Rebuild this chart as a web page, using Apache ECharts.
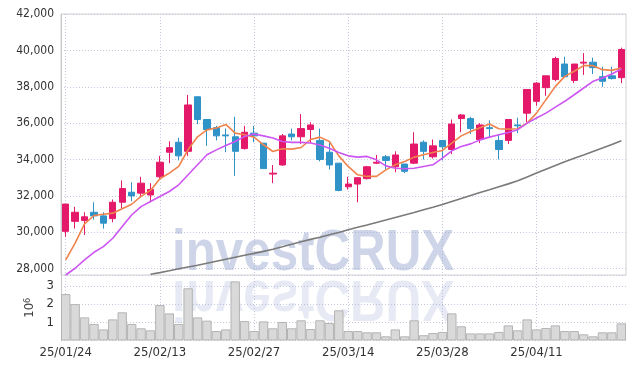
<!DOCTYPE html>
<html>
<head>
<meta charset="utf-8">
<script src="https://cdn.jsdelivr.net/npm/echarts@6/dist/echarts.min.js"></script>
<style>
  html, body { margin: 0; padding: 0; background: #fff; }
  #chart { width: 634px; height: 369px; }
</style>
</head>
<body>
<div id="chart"></div>
<script>
// trading days (yy/mm/dd)
const dates = [
  '25/01/24', '25/01/31', '25/02/03', '25/02/04', '25/02/05', '25/02/06', '25/02/07', '25/02/10', '25/02/11', '25/02/12',
  '25/02/13', '25/02/14', '25/02/17', '25/02/18', '25/02/19', '25/02/20', '25/02/21', '25/02/24', '25/02/25', '25/02/26',
  '25/02/27', '25/02/28', '25/03/04', '25/03/05', '25/03/06', '25/03/07', '25/03/10', '25/03/11', '25/03/12', '25/03/13',
  '25/03/14', '25/03/17', '25/03/18', '25/03/19', '25/03/20', '25/03/21', '25/03/24', '25/03/25', '25/03/26', '25/03/27',
  '25/03/28', '25/03/31', '25/04/01', '25/04/02', '25/04/03', '25/04/04', '25/04/07', '25/04/08', '25/04/09', '25/04/10',
  '25/04/11', '25/04/14', '25/04/15', '25/04/16', '25/04/17', '25/04/18', '25/04/21', '25/04/22', '25/04/23', '25/04/24'
];

const opens = [
  30050, 30600, 30650, 31100, 30900, 30750, 31650, 32200, 32150, 32050,
  33050, 34400, 34950, 34450, 37450, 36200, 35750, 35350, 35250, 34600,
  35450, 34900, 33200, 33700, 35400, 35250, 35650, 35050, 34400, 33800,
  32500, 32650, 32950, 33800, 34150, 33600, 33750, 33800, 34950, 34150,
  35050, 34550, 36250, 36250, 35100, 35750, 35050, 35050, 35900, 36550,
  37200, 37950, 38400, 39250, 38350, 39300, 39350, 38550, 38600, 38500
];
const closes = [
  31550, 31100, 30850, 30900, 30500, 31650, 32400, 32000, 32700, 32350,
  33850, 34650, 34200, 37000, 36200, 35650, 35300, 35300, 34450, 35500,
  35300, 33500, 33250, 35300, 35250, 35700, 35900, 34000, 33700, 32300,
  32650, 33000, 33600, 33850, 33950, 34250, 33350, 34850, 34450, 34750,
  34700, 35950, 36450, 35700, 35900, 35700, 34550, 36200, 35850, 37850,
  38200, 38600, 39550, 38550, 39250, 39350, 39050, 38300, 38450, 40050
];
const lows = [
  29750, 30200, 29850, 30700, 30200, 30550, 31300, 31700, 31950, 31650,
  32900, 33800, 33950, 34200, 35950, 34750, 35050, 34400, 33100, 34550,
  34950, 33500, 32700, 33650, 35050, 34850, 34900, 33900, 33450, 32250,
  32350, 31650, 32900, 33750, 33450, 33300, 33250, 33750, 34000, 34050,
  33950, 34300, 35500, 35400, 34900, 35200, 34000, 34850, 35450, 36050,
  36950, 37500, 38300, 38550, 38200, 38650, 38700, 38000, 38400, 38200
];
const highs = [
  31550, 31400, 31100, 31650, 31100, 31800, 32850, 32750, 33050, 32700,
  34200, 35000, 35200, 37550, 37450, 36200, 35850, 35700, 36350, 35850,
  35850, 34900, 33700, 35400, 35700, 36500, 36050, 35700, 35000, 33800,
  33050, 33000, 33650, 34250, 34250, 34450, 33750, 35500, 35050, 35100,
  35050, 36200, 36500, 36350, 36000, 36150, 35400, 36200, 36300, 37850,
  38250, 38600, 39650, 39650, 39250, 39850, 39600, 39100, 39100, 40150
];

// moving averages
const ma5 = [
  28480, 29400, 30460, 30920, 30990, 31050, 31290, 31540, 31970, 32300,
  32940, 33250, 33620, 34550, 35250, 35630, 35730, 35930, 35450, 35360,
  35230, 34810, 34440, 34590, 34570, 34660, 35100, 35230, 34990, 34200,
  33620, 33160, 33070, 33070, 33430, 33710, 33890, 34130, 34260, 34390,
  34500, 34900, 35300, 35540, 35750, 35950, 35690, 35670, 35690, 36000,
  36550, 37290, 38020, 38570, 38850, 39160, 39160, 38940, 38900, 39030
];
const ma20 = [
  27650, 28020, 28480, 28900, 29210, 29670, 30310, 30950, 31410, 31690,
  31970, 32240, 32610, 33160, 33710, 34260, 34530, 34770, 34990, 35270,
  35400, 35300, 35180, 34990, 34940, 34940, 34910, 34800, 34620, 34390,
  34200, 34130, 34170, 33980, 33650, 33520, 33490, 33520, 33620, 33710,
  34080, 34480, 34720, 34860, 35080, 35230, 35360, 35490, 35640, 36000,
  36280, 36550, 36880, 37200, 37560, 37930, 38300, 38480, 38700, 38980
];
const ma60 = [
  '-', '-', '-', '-', '-', '-', '-', '-', '-', 27690,
  27780, 27880, 27990, 28090, 28190, 28300, 28410, 28520, 28630, 28740,
  28840, 28950, 29070, 29200, 29340, 29480, 29610, 29730, 29860, 29990,
  30140, 30270, 30400, 30540, 30670, 30810, 30950, 31090, 31240, 31380,
  31530, 31690, 31850, 32020, 32190, 32340, 32500, 32660, 32830, 33040,
  33260, 33470, 33670, 33880, 34070, 34250, 34440, 34630, 34830, 35030
];

// volume, millions of shares
const volumes = [
  2.55, 2.00, 1.27, 0.91, 0.61, 1.16, 1.55, 0.91, 0.67, 0.56,
  1.95, 1.49, 0.91, 2.87, 1.27, 1.09, 0.52, 0.61, 3.25, 1.07,
  0.52, 1.05, 0.67, 1.02, 0.67, 1.11, 0.63, 1.11, 0.96, 1.66,
  0.52, 0.52, 0.45, 0.45, 0.23, 0.61, 0.23, 1.11, 0.29, 0.41,
  0.47, 1.49, 0.78, 0.39, 0.39, 0.39, 0.47, 0.83, 0.56, 1.16,
  0.61, 0.69, 0.83, 0.52, 0.52, 0.34, 0.23, 0.45, 0.45, 0.94
];

const candles = dates.map((d, i) => [opens[i], closes[i], lows[i], highs[i]]);

const chart = echarts.init(document.getElementById('chart'));

const FONT = 'DejaVu Sans Condensed';
const dotted = { show: true, lineStyle: { color: '#c6c9de', type: [1, 2], width: 1 } };
const UP = '#e5196a';
const DOWN = '#2f93c8';
const MARK_FONT = 'bold 58px "Liberation Sans", Arial, sans-serif';

const option = {
  animation: false,
  grid: [
    { left: 61, right: 8, top: 14, height: 261, show: true, borderColor: '#d2d2d2', borderWidth: 1 },
    { left: 61, right: 8, top: 275, height: 65.5 }
  ],
  graphic: [
    {
      type: 'text', x: 172, y: 275, scaleX: 0.85, z: 1, silent: true,
      style: {
        text: 'investCRUX', x: 0, y: -21, verticalAlign: 'middle',
        font: MARK_FONT, fill: 'rgba(160,172,210,0.5)'
      }
    },
    {
      type: 'text', x: 172, y: 276, scaleX: 0.85, scaleY: -1, z: 1, silent: true,
      style: {
        text: 'investCRUX', x: 0, y: -21, verticalAlign: 'middle',
        font: MARK_FONT, fill: 'rgba(160,172,210,0.25)'
      }
    }
  ],
  xAxis: [
    {
      type: 'category', gridIndex: 0, data: dates,
      axisLine: { show: false }, axisTick: { show: false },
      axisLabel: { show: false, interval: 9 },
      splitLine: Object.assign({}, dotted, { interval: 9, alignWithLabel: true })
    },
    {
      type: 'category', gridIndex: 1, data: dates,
      axisLine: { show: false }, axisTick: { show: false },
      axisLabel: { interval: 9, margin: 6, fontFamily: FONT, fontSize: 13, color: '#333' },
      splitLine: Object.assign({}, dotted, { interval: 9, alignWithLabel: true })
    }
  ],
  yAxis: [
    {
      type: 'value', gridIndex: 0, min: 27650, max: 42000, splitNumber: 7,
      axisLine: { show: true, lineStyle: { color: '#c8c8c8' } },
      axisTick: { show: false },
      axisLabel: { margin: 7, fontFamily: FONT, fontSize: 12, color: '#333', showMinLabel: false },
      splitLine: dotted
    },
    {
      type: 'value', gridIndex: 1, min: 0, max: 3.6, interval: 1,
      name: '{a|10}{b|6}', nameLocation: 'middle', nameGap: 23, nameRotate: 90,
      nameTextStyle: {
        rich: {
          a: { fontFamily: FONT, fontSize: 13, color: '#444' },
          b: { fontFamily: FONT, fontSize: 9, color: '#444', verticalAlign: 'top' }
        }
      },
      axisLine: { show: true, lineStyle: { color: '#c8c8c8' } },
      axisTick: { show: false },
      axisLabel: { margin: 7, fontFamily: FONT, fontSize: 13, color: '#333', showMinLabel: false, showMaxLabel: false },
      splitLine: dotted
    }
  ],
  series: [
    {
      type: 'bar', xAxisIndex: 1, yAxisIndex: 1, data: volumes,
      barCategoryGap: '0%',
      itemStyle: { color: '#d9d9d9', borderColor: '#b4b4b4', borderWidth: 1 }
    },
    {
      type: 'candlestick', xAxisIndex: 0, yAxisIndex: 0, data: candles,
      barWidth: '72%',
      itemStyle: { color: UP, color0: DOWN, borderColor: UP, borderColor0: DOWN, borderWidth: 1 }
    },
    {
      name: 'MA5', type: 'line', data: ma5, symbol: 'none',
      lineStyle: { color: '#f0834c', width: 1.6 }
    },
    {
      name: 'MA20', type: 'line', data: ma20, symbol: 'none',
      lineStyle: { color: '#cd55f2', width: 1.6 }
    },
    {
      name: 'MA60', type: 'line', data: ma60, symbol: 'none',
      lineStyle: { color: '#7a7a7a', width: 1.6 }
    }
  ]
};

chart.setOption(option);
</script>
</body>
</html>
